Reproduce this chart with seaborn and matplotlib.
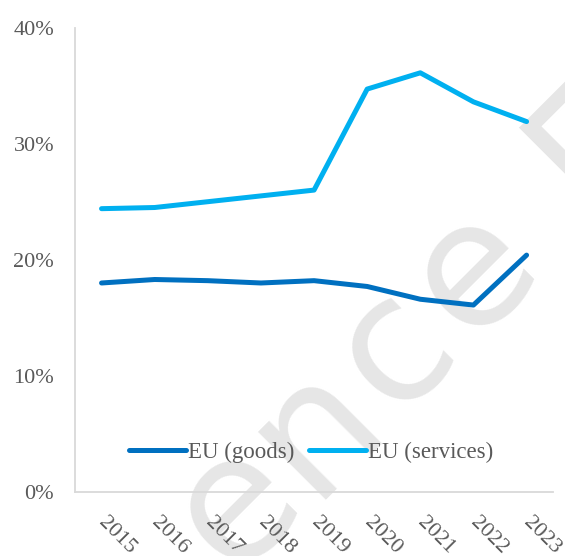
import matplotlib
matplotlib.use("Agg")
import matplotlib.pyplot as plt
import seaborn as sns
import pandas as pd

years = [2015, 2016, 2017, 2018, 2019, 2020, 2021, 2022, 2023]
goods = [18.0, 18.3, 18.2, 18.0, 18.2, 17.7, 16.6, 16.1, 20.4]
services = [24.4, 24.5, 25.0, 25.5, 26.0, 34.7, 36.1, 33.6, 31.9]
series_names = ["EU (goods)", "EU (services)"]
y_ticks = [0, 10, 20, 30, 40]

df = pd.DataFrame({
    "year": years * 2,
    "share": goods + services,
    "series": [series_names[0]] * len(years) + [series_names[1]] * len(years),
})

sns.set_style("white")
plt.rcParams["font.family"] = ["Liberation Serif", "DejaVu Serif"]

W, H = 565, 556
text_gray = "#595959"
fig = plt.figure(figsize=(W / 100, H / 100), dpi=100)
ax = fig.add_axes([0.1327, 0.1151, 0.979 - 0.1327, 0.9505 - 0.1151])

# faint diagonal watermark letters, drawn beneath the axes
wm_style = dict(rotation=45, rotation_mode="anchor", va="baseline",
                fontsize=125, color="#e6e6e6", family="DejaVu Sans", zorder=-1)
for ch, (px, py) in zip("ence", [(270, 539), (349, 461), (428, 383), (507, 305)]):
    fig.text(px / W, 1 - py / H, ch, ha="center", **wm_style)
fig.text(593 / W, 1 - 218 / H, "E", ha="left", **wm_style)
ax.set_facecolor("none")

sns.lineplot(data=df, x="year", y="share", hue="series",
             palette=["#0070C0", "#00B0F0"], linewidth=3.6,
             solid_capstyle="round", ax=ax, legend=True)

ax.set_xlim(2014.5, 2023.5)
ax.set_ylim(0, 40)
ax.set_yticks(y_ticks)
ax.set_yticklabels([f"{v}%" for v in y_ticks])
ax.set_xticks(years)
ax.set_xticklabels([str(y) for y in years])
ax.set_xlabel("")
ax.set_ylabel("")

for s in ["top", "right"]:
    ax.spines[s].set_visible(False)
for s in ["left", "bottom"]:
    ax.spines[s].set_color("#d9d9d9")
    ax.spines[s].set_linewidth(1.3)

ax.tick_params(axis="both", length=0, labelsize=16, labelcolor=text_gray)
ax.tick_params(axis="y", pad=15)
ax.tick_params(axis="x", pad=20)
for lab in ax.get_xticklabels():
    lab.set_rotation(-45)
    lab.set_rotation_mode("anchor")
    lab.set_ha("left")
    lab.set_va("center")

handles, labels = ax.get_legend_handles_labels()
leg = ax.legend(handles, labels, loc="center", bbox_to_anchor=(0.494, 0.086),
                ncol=2, frameon=False, fontsize=16.5, handlelength=2.5,
                handletextpad=0.1, columnspacing=0.6, labelcolor=text_gray)
for h in leg.get_lines():
    h.set_linewidth(3.6)

fig.savefig("out.png", dpi=100)
